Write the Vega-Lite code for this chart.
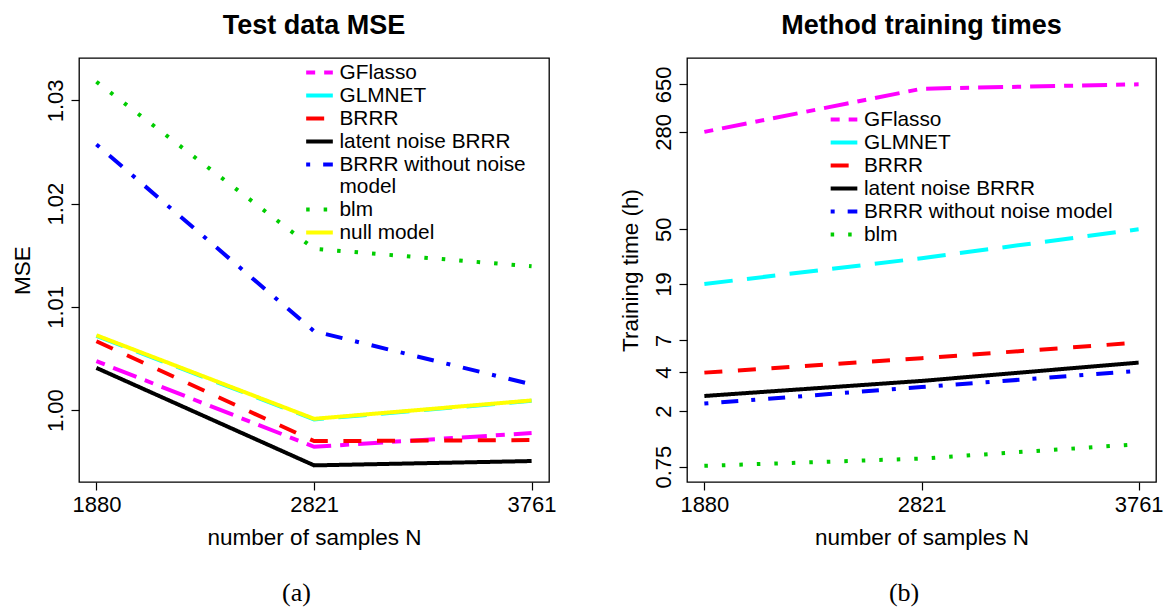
{
  "$schema": "https://vega.github.io/schema/vega-lite/v6.json",
  "background": "white",
  "padding": {"left": 10, "top": 11, "right": 0, "bottom": 0},
  "config": {
    "font": "Liberation Sans",
    "view": {"stroke": "black", "strokeWidth": 1.3},
    "axis": {
      "domain": false, "grid": false,
      "tickColor": "black", "tickSize": 8, "tickWidth": 1.2,
      "labelFont": "Liberation Sans", "labelFontSize": 22, "labelColor": "black", "labelPadding": 4,
      "titleFont": "Liberation Sans", "titleFontSize": 22.5, "titleFontWeight": "normal", "titleColor": "black"
    },
    "title": {"font": "Liberation Sans", "fontSize": 27, "fontWeight": "bold", "color": "black", "baseline": "alphabetic", "offset": 18},
    "legend": {
      "symbolType": "M-1.27,0H1.27", "symbolSize": 441, "symbolStrokeWidth": 4,
      "labelFont": "Liberation Sans", "labelFontSize": 20.8, "labelColor": "black",
      "labelOffset": 7.5, "rowPadding": 0, "padding": 0, "labelLimit": 0
    }
  },
  "resolve": {"scale": {"color": "independent", "strokeDash": "independent"}, "legend": {"color": "independent", "strokeDash": "independent"}},
  "spacing": 61,
  "hconcat": [
    {
      "title": {"text": "(a)", "orient": "bottom", "font": "Liberation Serif", "fontSize": 26, "fontWeight": "normal", "baseline": "top", "offset": 31, "anchor": "middle", "dx": 13},
      "hconcat": [
        {
          "title": {"text": "Test data MSE"},
          "width": 470, "height": 424,
          "data": {"values": [
            {"method": "GLMNET", "N": 1880, "MSE": 1.00718},
            {"method": "GLMNET", "N": 2821, "MSE": 0.99910},
            {"method": "GLMNET", "N": 3761, "MSE": 1.00090},
            {"method": "GFlasso", "N": 1880, "MSE": 1.00474},
            {"method": "GFlasso", "N": 2821, "MSE": 0.99645},
            {"method": "GFlasso", "N": 3761, "MSE": 0.99778},
            {"method": "BRRR", "N": 1880, "MSE": 1.00667},
            {"method": "BRRR", "N": 2821, "MSE": 0.99700},
            {"method": "BRRR", "N": 3761, "MSE": 0.99710},
            {"method": "latent noise BRRR", "N": 1880, "MSE": 1.00409},
            {"method": "latent noise BRRR", "N": 2821, "MSE": 0.99465},
            {"method": "latent noise BRRR", "N": 3761, "MSE": 0.99507},
            {"method": "BRRR without noise model", "N": 1880, "MSE": 1.02573},
            {"method": "BRRR without noise model", "N": 2821, "MSE": 1.00764},
            {"method": "BRRR without noise model", "N": 3761, "MSE": 1.00249},
            {"method": "blm", "N": 1880, "MSE": 1.0318},
            {"method": "blm", "N": 2821, "MSE": 1.01562},
            {"method": "blm", "N": 3761, "MSE": 1.01393},
            {"method": "null model", "N": 1880, "MSE": 1.00725},
            {"method": "null model", "N": 2821, "MSE": 0.99916},
            {"method": "null model", "N": 3761, "MSE": 1.00094}
          ]},
          "mark": {"type": "line", "strokeWidth": 4},
          "encoding": {
            "x": {"field": "N", "type": "quantitative",
              "scale": {"domain": [1804.76, 3836.24], "nice": false, "zero": false},
              "axis": {"values": [1880, 2821, 3761], "format": "d", "title": "number of samples N", "titlePadding": 11}},
            "y": {"field": "MSE", "type": "quantitative",
              "scale": {"domain": [0.99304, 1.0341], "nice": false, "zero": false},
              "axis": {"values": [1.0, 1.01, 1.02, 1.03], "format": ".2f", "labelAngle": -90, "title": "MSE", "titlePadding": 10}},
            "color": {"field": "method", "type": "nominal",
              "scale": {"domain": ["GFlasso", "GLMNET", "BRRR", "latent noise BRRR", "BRRR without noise model", "blm", "null model"],
                "range": ["#ff00ff", "#00ffff", "#ff0000", "#000000", "#0000ff", "#00cd00", "#ffff00"]},
              "legend": {"title": null, "orient": "none", "legendX": 228, "legendY": 2,
                "labelExpr": "datum.label == 'BRRR without noise model' ? ['BRRR without noise', 'model'] : datum.label",
                "encode": {"labels": {"update": {"lineHeight": {"value": 22.7}}}}}},
            "strokeDash": {"field": "method", "type": "nominal",
              "scale": {"domain": ["GFlasso", "GLMNET", "BRRR", "latent noise BRRR", "BRRR without noise model", "blm", "null model"],
                "range": [[9, 9, 25, 9], [28.5, 14.4], [18, 15.6], [1, 0], [4, 13, 17, 13], [3.5, 14], [1, 0]]},
              "legend": {"title": null, "orient": "none", "legendX": 228, "legendY": 2,
                "labelExpr": "datum.label == 'BRRR without noise model' ? ['BRRR without noise', 'model'] : datum.label",
                "encode": {"labels": {"update": {"lineHeight": {"value": 22.7}}}}}}
          }
        }
      ]
    },
    {
      "title": {"text": "(b)", "orient": "bottom", "font": "Liberation Serif", "fontSize": 26, "fontWeight": "normal", "baseline": "top", "offset": 31, "anchor": "middle", "dx": 13},
      "hconcat": [
        {
          "title": {"text": "Method training times"},
          "width": 469, "height": 424,
          "data": {"values": [
            {"method": "GFlasso", "N": 1880, "hours": 280},
            {"method": "GFlasso", "N": 2821, "hours": 601},
            {"method": "GFlasso", "N": 3761, "hours": 650},
            {"method": "GLMNET", "N": 1880, "hours": 19},
            {"method": "GLMNET", "N": 2821, "hours": 30},
            {"method": "GLMNET", "N": 3761, "hours": 50},
            {"method": "BRRR", "N": 1880, "hours": 3.96},
            {"method": "BRRR", "N": 2821, "hours": 5.11},
            {"method": "BRRR", "N": 3761, "hours": 6.74},
            {"method": "latent noise BRRR", "N": 1880, "hours": 2.62},
            {"method": "latent noise BRRR", "N": 2821, "hours": 3.42},
            {"method": "latent noise BRRR", "N": 3761, "hours": 4.73},
            {"method": "BRRR without noise model", "N": 1880, "hours": 2.29},
            {"method": "BRRR without noise model", "N": 2821, "hours": 3.07},
            {"method": "BRRR without noise model", "N": 3761, "hours": 4.08},
            {"method": "blm", "N": 1880, "hours": 0.761},
            {"method": "blm", "N": 2821, "hours": 0.866},
            {"method": "blm", "N": 3761, "hours": 1.117}
          ]},
          "mark": {"type": "line", "strokeWidth": 4},
          "encoding": {
            "x": {"field": "N", "type": "quantitative",
              "scale": {"domain": [1804.76, 3836.24], "nice": false, "zero": false},
              "axis": {"values": [1880, 2821, 3761], "format": "d", "title": "number of samples N", "titlePadding": 11}},
            "y": {"field": "hours", "type": "quantitative",
              "scale": {"type": "log", "domain": [0.572, 1035], "nice": false},
              "axis": {"values": [0.75, 2, 4, 7, 19, 50, 280, 650], "format": "~g", "labelAngle": -90, "title": "Training time (h)", "titlePadding": 10}},
            "color": {"field": "method", "type": "nominal",
              "scale": {"domain": ["GFlasso", "GLMNET", "BRRR", "latent noise BRRR", "BRRR without noise model", "blm"],
                "range": ["#ff00ff", "#00ffff", "#ff0000", "#000000", "#0000ff", "#00cd00"]},
              "legend": {"title": null, "orient": "none", "legendX": 144.5, "legendY": 49}},
            "strokeDash": {"field": "method", "type": "nominal",
              "scale": {"domain": ["GFlasso", "GLMNET", "BRRR", "latent noise BRRR", "BRRR without noise model", "blm"],
                "range": [[9, 9, 25, 9], [28.5, 14.4], [18, 15.6], [1, 0], [4, 13, 17, 13], [3.5, 14]]},
              "legend": {"title": null, "orient": "none", "legendX": 144.5, "legendY": 49}}
          }
        }
      ]
    }
  ]
}
